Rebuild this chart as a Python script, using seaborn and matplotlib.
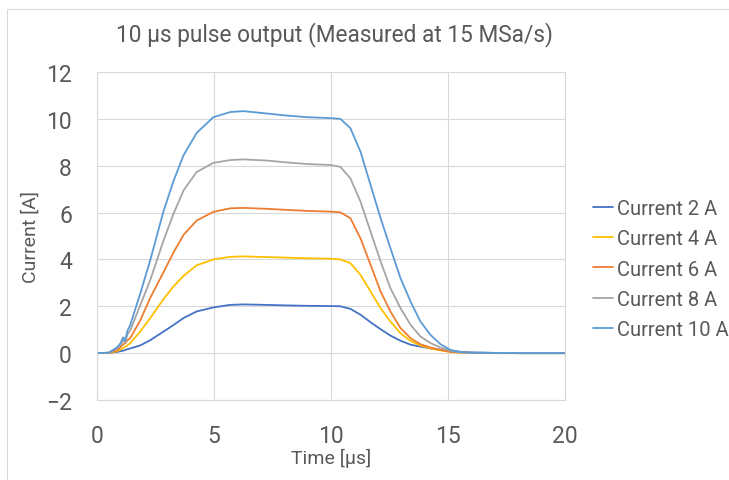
import numpy as np
import pandas as pd
import seaborn as sns
import matplotlib.pyplot as plt
from matplotlib.patches import Rectangle

time_us = [0, 0.5, 0.85, 1.0, 1.12, 1.2, 1.3, 1.42, 1.85, 2.27, 2.84, 3.27, 3.7, 4.26,
           4.97, 5.69, 6.25, 7.25, 8, 9, 10, 10.4, 10.83, 11.26, 11.69, 12.12, 12.54,
           12.97, 13.4, 13.82, 14.25, 14.68, 15.1, 15.5, 16, 17, 18, 20]

current_2a = [0, 0.01, 0.05, 0.08, 0.11, 0.13, 0.17, 0.2, 0.33, 0.55, 0.92, 1.2, 1.5, 1.78,
              1.95, 2.06, 2.08, 2.06, 2.04, 2.02, 2.01, 2.0, 1.89, 1.64, 1.32, 1.02, 0.75,
              0.53, 0.36, 0.28, 0.2, 0.14, 0.1, 0.06, 0.03, 0.01, 0, 0]
current_4a = [0, 0.01, 0.08, 0.15, 0.22, 0.27, 0.33, 0.43, 0.93, 1.49, 2.3, 2.85, 3.3, 3.75,
              4.0, 4.11, 4.13, 4.1, 4.08, 4.05, 4.03, 4.0, 3.84, 3.34, 2.63, 1.92, 1.35,
              0.85, 0.52, 0.33, 0.2, 0.12, 0.05, 0.03, 0.01, 0, 0, 0]
current_6a = [0, 0.01, 0.12, 0.25, 0.38, 0.42, 0.55, 0.64, 1.4, 2.35, 3.45, 4.3, 5.05, 5.66,
              6.03, 6.18, 6.2, 6.16, 6.12, 6.07, 6.04, 6.01, 5.76, 4.9, 3.77, 2.63, 1.78,
              1.07, 0.64, 0.38, 0.24, 0.14, 0.05, 0.03, 0.01, 0, 0, 0]
current_8a = [0, 0.02, 0.2, 0.35, 0.55, 0.45, 0.8, 0.97, 2.05, 3.1, 4.8, 5.95, 6.95, 7.73,
              8.12, 8.24, 8.27, 8.22, 8.15, 8.07, 8.03, 7.95, 7.46, 6.47, 5.19, 3.91, 2.77,
              1.92, 1.21, 0.71, 0.43, 0.24, 0.1, 0.04, 0.02, 0.01, 0, 0]
current_10a = [0, 0.02, 0.24, 0.42, 0.68, 0.52, 0.95, 1.2, 2.55, 3.95, 6.05, 7.35, 8.45, 9.4,
               10.07, 10.29, 10.33, 10.23, 10.15, 10.07, 10.03, 10.0, 9.6, 8.6, 7.18, 5.76, 4.48,
               3.2, 2.2, 1.35, 0.78, 0.38, 0.14, 0.05, 0.02, 0.01, 0, 0]

series_names = ["Current 2 A", "Current 4 A", "Current 6 A", "Current 8 A", "Current 10 A"]
series_colors = ["#4472C4", "#FFC000", "#ED7D31", "#A5A5A5", "#5B9BD5"]

frames = []
for name, vals in zip(series_names,
                      [current_2a, current_4a, current_6a, current_8a, current_10a]):
    frames.append(pd.DataFrame({"time": time_us, "current": vals, "series": name}))
data = pd.concat(frames, ignore_index=True)

sns.set_style("white")
plt.rcParams['font.family'] = ['Roboto', 'DejaVu Sans']
TXT = "#595959"
GRID = "#D9D9D9"

fig = plt.figure(figsize=(7.29, 4.81), dpi=100)
ax = fig.add_axes([97 / 729, 1 - 401 / 481, 468 / 729, 328 / 481])

sns.lineplot(data=data, x="time", y="current", hue="series", hue_order=series_names,
             palette=dict(zip(series_names, series_colors)), estimator=None,
             linewidth=1.3, ax=ax)

ax.set_xlim(0, 20)
ax.set_ylim(-2, 12)
ax.set_xticks(np.arange(0, 21, 5))
ax.set_yticks(np.arange(-2, 13, 2))
ax.grid(True, color=GRID, linewidth=0.8)
ax.set_axisbelow(True)
for sp in ax.spines.values():
    sp.set_color(GRID)
    sp.set_linewidth(0.8)
ax.tick_params(axis='both', length=0, labelsize=16.5, labelcolor=TXT)
ax.tick_params(axis='y', pad=18)
ax.tick_params(axis='x', pad=17)

ax.set_xlabel("Time [µs]", fontsize=14, color=TXT)
ax.set_ylabel("Current [A]", fontsize=14, color=TXT)
ax.xaxis.set_label_coords(0.5, (401 - 458) / 328)
ax.xaxis.label.set_va('center')
ax.yaxis.set_label_coords((31 - 97) / 468, 0.5)
ax.yaxis.label.set_va('center')

fig.text(334 / 729, 1 - 35 / 481, "10 µs pulse output (Measured at 15 MSa/s)",
         fontsize=16.3, color=TXT, ha='center', va='center')

leg = ax.legend(loc='center left', bbox_to_anchor=(593 / 729, 1 - 270 / 481),
                bbox_transform=fig.transFigure, frameon=False, fontsize=14.5,
                handlelength=1.0, handletextpad=0.2, labelspacing=0.55,
                borderpad=0, borderaxespad=0)
for txt in leg.get_texts():
    txt.set_color(TXT)

# chart-area border (only the top and left edges fall inside the capture)
fig.add_artist(Rectangle((7 / 729, -0.1), 1.0, 1.1 - 10 / 481, transform=fig.transFigure,
                         fill=False, edgecolor=GRID, linewidth=0.8))

fig.savefig("out.png", dpi=100)
